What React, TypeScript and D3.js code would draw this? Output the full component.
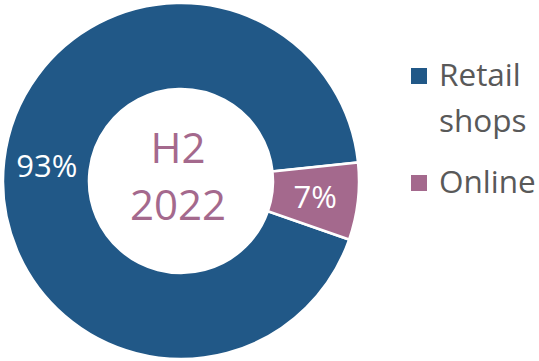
import React from "react";
import * as d3 from "d3";

const categories = ["Retail shops", "Online"];
const values = [93, 7];
const labels = ["93%", "7%"];
const legendLines = [["Retail", "shops"], ["Online"]];
const centerLines = ["H2", "2022"];
const colors = ["#215887", "#A4698D"];

export default function App() {
  const W = 539, H = 361;
  const cx = 181, cy = 181;
  const outerR = 178, innerR = 92;
  const start = (109.2 * Math.PI) / 180;
  const pie = d3.pie<number>().sort(null).value((d) => d).startAngle(start).endAngle(start + 2 * Math.PI);
  const arcs = pie(values);
  const arc = d3.arc<d3.PieArcDatum<number>>().innerRadius(innerR).outerRadius(outerR);
  const font = "'Open Sans', sans-serif";
  const legendY = [86, 193];
  return (
    <svg width={W} height={H} style={{ position: "absolute", left: 0, top: 0, display: "block" }} fontFamily={font}>
      <rect width={W} height={H} fill="#fff" />
      <g transform={`translate(${cx},${cy})`}>
        {arcs.map((a, i) => (
          <path key={categories[i]} d={arc(a) || ""} fill={colors[i]} stroke="#fff" strokeWidth={2.5} />
        ))}
        {arcs.map((a, i) => {
          const [x, y] = arc.centroid(a);
          return (
            <text key={"l" + i} x={x} y={y} dy="0.36em" textAnchor="middle" fill="#fff" fontSize={31}>
              {labels[i]}
            </text>
          );
        })}
        {centerLines.map((t, i) => (
          <text key={"c" + i} x={-3} y={-18 + i * 57} textAnchor="middle" fill={colors[1]} fontSize={42}>
            {t}
          </text>
        ))}
      </g>
      {categories.map((c, i) => (
        <g key={"lg" + i}>
          <rect x={411} y={legendY[i] - 18} width={16} height={16} fill={colors[i]} />
          {legendLines[i].map((t, j) => (
            <text key={j} x={439} y={legendY[i] + j * 45.5} fill="#595959" fontSize={31.5}>
              {t}
            </text>
          ))}
        </g>
      ))}
    </svg>
  );
}
